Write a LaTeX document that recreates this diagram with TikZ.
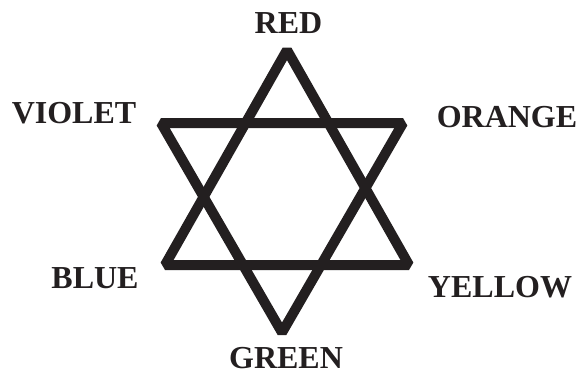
\documentclass[tikz,border=0pt]{standalone}
\usepackage{fontspec}
\setmainfont{Liberation Serif}
\usetikzlibrary{positioning}
\definecolor{ink}{RGB}{35,31,32}
\tikzset{
  every picture/.style={ink, x=1pt, y=-1pt},
  % Linien des Sterns
  edge/.style={ink, line width=10pt, line join=bevel},
  % Farbnamen
  lbl/.style={text=ink, inner sep=0pt, anchor=center,
    font=\fontsize{32}{38}\selectfont\bfseries},
}
\begin{document}
\begin{tikzpicture}
  \useasboundingbox (0,0) rectangle (578,376);
  % Ecken der beiden Dreiecke
  \coordinate (up-top) at (287,50);
  \coordinate (up-left) at (165,265);
  \coordinate (up-right) at (409,265);
  \coordinate (dn-left) at (161,123);
  \coordinate (dn-right) at (403,123);
  \coordinate (dn-bot) at (282,332.5);
  % Dreiecke
  \draw[edge] (up-top) -- (up-left) -- (up-right) -- cycle;
  \draw[edge] (dn-left) -- (dn-right) -- (dn-bot) -- cycle;
  % Beschriftung
  \node[lbl] (red) at (288.5,23) {RED};
  \node[lbl] (orange) at (507,117.5) {ORANGE};
  \node[lbl] (yellow) at (500,287.5) {YELLOW};
  \node[lbl] (green) at (286,358) {GREEN};
  \node[lbl] (blue) at (95,278) {BLUE};
  \node[lbl] (violet) at (74,113) {VIOLET};
\end{tikzpicture}
\end{document}
